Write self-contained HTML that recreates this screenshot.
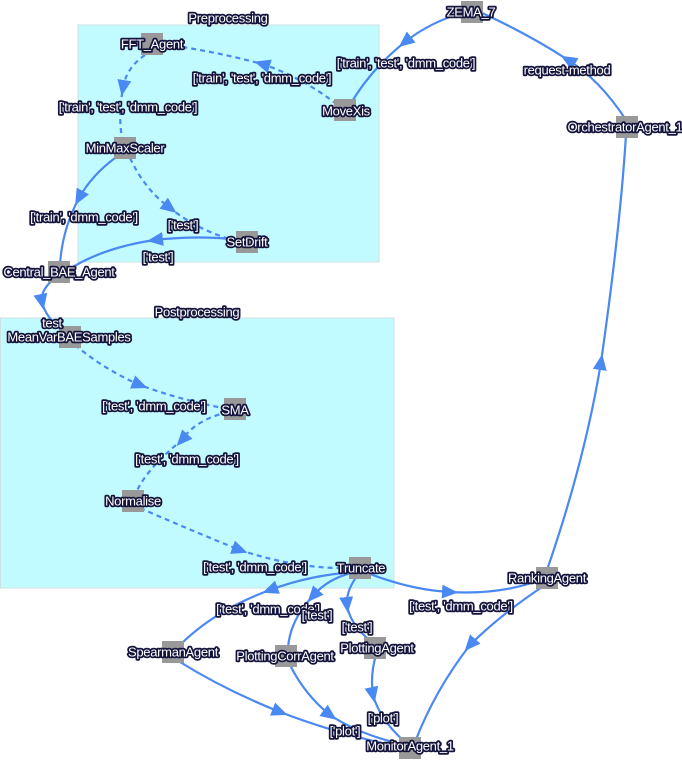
<!DOCTYPE html>
<html><head><meta charset="utf-8"><style>
html,body{margin:0;padding:0;background:#fff;}
svg text{font-family:"Liberation Sans",Arial,sans-serif;font-size:13px;fill:#fff;stroke:#14143c;stroke-width:3.5px;paint-order:stroke;stroke-linejoin:round;text-anchor:middle;dominant-baseline:central;letter-spacing:-0.3px}
.e{fill:none;stroke:#4a88f2;stroke-width:2.2;marker-mid:url(#a)}
.n{fill:none;stroke:#4a88f2;stroke-width:2.2}
.d{stroke-dasharray:5,4}
</style></head><body>
<svg width="682" height="759" viewBox="0 0 682 759" xmlns="http://www.w3.org/2000/svg">
<defs><marker id="a" markerWidth="16" markerHeight="14" refX="8" refY="7" orient="auto" markerUnits="userSpaceOnUse"><path d="M0,0 L16,7 L0,14 Z" fill="#4a88f2"/></marker></defs>
<rect x="78" y="25" width="301" height="237" fill="#c2fbff" stroke="#cde0e2"/>
<rect x="0.5" y="318" width="393.5" height="270" fill="#c2fbff" stroke="#cde0e2"/>
<path class="n d" d="M344,110 Q305,78 262,64 Q210,50 160,44"/>
<path d="M-8,-7 L8,0 L-8,7 Z" fill="#4a88f2" transform="translate(262,64) rotate(197)"/>
<path class="e d" d="M145,55 Q126,68 123,88 Q118,115 122,138"/>
<path class="e d" d="M130,158 Q145,190 170,208 Q200,232 240,242"/>
<path class="e" d="M115,158 Q92,175 79,198 Q62,230 60,265"/>
<path class="e" d="M240,240 Q200,235 155,240 Q100,248 65,272"/>
<path class="e" d="M55,278 Q40,290 42,302 Q46,318 62,330"/>
<path class="e d" d="M75,345 Q105,370 140,385 Q180,400 228,409"/>
<path class="e d" d="M228,412 Q195,420 182,440 Q145,470 135,495"/>
<path class="e d" d="M140,508 Q190,530 240,550 Q300,570 355,568"/>
<path class="e" d="M355,572 Q310,575 270,590 Q215,610 180,645"/>
<path class="e" d="M355,572 Q328,578 313,596 Q290,620 288,648"/>
<path class="e" d="M358,575 Q346,590 347,605 Q350,625 372,642"/>
<path class="e" d="M365,572 Q410,590 450,592 Q500,595 540,580"/>
<path class="e" d="M180,662 Q225,690 280,712 Q340,735 405,748"/>
<path class="e" d="M290,665 Q305,695 330,715 Q360,735 405,745"/>
<path class="e" d="M376,655 Q370,675 373,695 Q380,720 405,742"/>
<path class="e" d="M545,585 Q500,615 470,645 Q435,690 415,742"/>
<path class="e" d="M547,570 Q585,460 601,362 Q620,230 626,135"/>
<path class="n" d="M626,120 Q600,80 568,60 Q530,35 480,12"/>
<path d="M-8,-7 L8,0 L-8,7 Z" fill="#4a88f2" transform="translate(568,60) rotate(211)"/>
<path class="e" d="M465,12 Q430,22 405,42 Q370,70 350,105"/>
<g fill="#999">
<rect x="141" y="33" width="22" height="22"/><rect x="334" y="99" width="22" height="22"/>
<rect x="461" y="1" width="22" height="22"/><rect x="616" y="116" width="22" height="22"/>
<rect x="114" y="137" width="22" height="22"/><rect x="236" y="231" width="22" height="22"/>
<rect x="48" y="261" width="22" height="22"/><rect x="59" y="326" width="22" height="22"/>
<rect x="224" y="398" width="22" height="22"/><rect x="122" y="490" width="22" height="22"/>
<rect x="349" y="557" width="22" height="22"/><rect x="536" y="567" width="22" height="22"/>
<rect x="162" y="641" width="22" height="22"/><rect x="275" y="645" width="22" height="22"/>
<rect x="364" y="637" width="22" height="22"/><rect x="399" y="737" width="22" height="22"/>
</g>
<text x="228" y="18">Preprocessing</text>
<text x="197" y="312">Postprocessing</text>
<text x="262" y="78">['train', 'test', 'dmm_code']</text>
<text x="406" y="63">['train', 'test', 'dmm_code']</text>
<text x="567" y="70">request-method</text>
<text x="128" y="107">['train', 'test', 'dmm_code']</text>
<text x="84" y="217">['train', 'dmm_code']</text>
<text x="183" y="225">['test']</text>
<text x="158" y="257">['test']</text>
<text x="52" y="323">test</text>
<text x="154" y="406">['test', 'dmm_code']</text>
<text x="187" y="459">['test', 'dmm_code']</text>
<text x="255" y="567">['test', 'dmm_code']</text>
<text x="268" y="609">['test', 'dmm_code']</text>
<text x="317" y="615">['test']</text>
<text x="357" y="627">['test']</text>
<text x="461" y="606">['test', 'dmm_code']</text>
<text x="383" y="718">['plot']</text>
<text x="345" y="731">['plot']</text>
<text x="152" y="44">FFT_Agent</text>
<text x="346" y="111">MoveXis</text>
<text x="471" y="12">ZEMA_7</text>
<text x="625" y="127">OrchestratorAgent_1</text>
<text x="125" y="148">MinMaxScaler</text>
<text x="247" y="242">SetDrift</text>
<text x="59" y="272">Central_BAE_Agent</text>
<text x="69" y="337">MeanVarBAESamples</text>
<text x="235" y="410">SMA</text>
<text x="133" y="501">Normalise</text>
<text x="361" y="568">Truncate</text>
<text x="547" y="578">RankingAgent</text>
<text x="173" y="652">SpearmanAgent</text>
<text x="285" y="656">PlottingCorrAgent</text>
<text x="377" y="648">PlottingAgent</text>
<text x="410" y="746">MonitorAgent_1</text>
</svg>
</body></html>
